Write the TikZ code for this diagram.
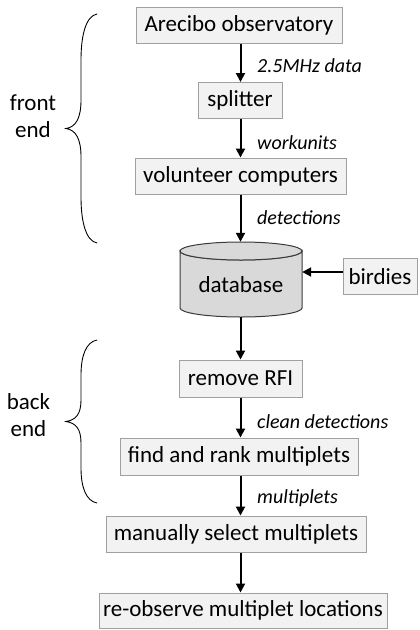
\documentclass[tikz,border=0pt]{standalone}
\usepackage{fontspec}
\setmainfont{Carlito}
\usetikzlibrary{arrows.meta}
\definecolor{boxfill}{HTML}{F2F2F2}
\definecolor{boxline}{HTML}{A0A0A0}
\definecolor{dbfill}{HTML}{D9D9D9}
\definecolor{dbline}{HTML}{3A3A3A}
\begin{document}
\begin{tikzpicture}[x=1pt,y=-1pt,
  stage/.style={draw=boxline, fill=boxfill, line width=1pt, inner sep=0pt,
    minimum height=36pt, font=\fontsize{23}{27}\selectfont},
  flowlabel/.style={anchor=west, inner sep=0pt, font=\fontsize{20}{24}\itshape},
  sidelabel/.style={align=center, inner sep=0pt, font=\fontsize{23}{27}\selectfont},
  flow/.style={line width=2pt, -{Triangle[length=9pt,width=9pt]}},
  bracket/.style={line width=0.9pt, line cap=round}]
\useasboundingbox (0,0) rectangle (420,630);

% vertical line along which the main flow runs
\coordinate (spine) at (240.5,0);

% pipeline stages
\node[stage, minimum width=206pt] (arecibo) at (239,25) {Arecibo observatory};
\node[stage, minimum width=84pt]  (splitter) at (240,100.5) {splitter};
\node[stage, minimum width=211pt] (volunteer) at (240.5,176) {volunteer computers};
\node[stage, minimum width=74pt]  (birdies) at (380,276.5) {birdies};
\node[stage, minimum width=123pt, minimum height=37pt] (rfi) at (240.5,378.5) {remove RFI};
\node[stage, minimum width=238pt, minimum height=37pt] (rank) at (239,456.5) {find and rank multiplets};
\node[stage, minimum width=260pt] (select) at (236,534) {manually select multiplets};
\node[stage, minimum width=288pt, minimum height=35pt] (reobs) at (243,610.5) {re-observe multiplet locations};

% database cylinder: body outline plus top ellipse
\node[inner sep=0pt, minimum width=122pt, minimum height=75pt] (db) at (241,279.5) {};
\filldraw[fill=dbfill, draw=dbline, line width=1pt]
  (180,251) -- (180,308) arc (180:0:61 and 9) -- (302,251) arc (0:180:61 and 9) -- cycle;
\filldraw[fill=dbfill, draw=dbline, line width=1pt] (241,251) ellipse (61 and 9);
\node[inner sep=0pt, font=\fontsize{23}{27}\selectfont] (dbtext) at (241,285) {database};

% connectors
\draw[flow] (arecibo.south -| spine) -- (splitter.north -| spine);
\draw[flow] (splitter.south -| spine) -- (volunteer.north -| spine);
\draw[flow] (volunteer.south -| spine) -- (db.north -| spine);
\draw[flow] ([yshift=4.5pt]birdies.west) -- ([yshift=4.5pt]birdies.west -| db.east);
\draw[flow] (db.south -| spine) -- (rfi.north -| spine);
\draw[flow] (rfi.south -| spine) -- (rank.north -| spine);
\draw[flow] (rank.south -| spine) -- (select.north -| spine);
\draw[flow] (select.south -| spine) -- (reobs.north -| spine);

% connector labels
\node[flowlabel] (l1) at (257,66) {2.5MHz data};
\node[flowlabel] (l2) at (257,143) {workunits};
\node[flowlabel] (l3) at (257,218) {detections};
\node[flowlabel] (l4) at (257,422) {clean detections};
\node[flowlabel] (l5) at (257,498) {multiplets};

% grouping braces
\draw[bracket] (97,14) .. controls (86,16) and (81,35) .. (81,60) -- (81,100)
  .. controls (81,118) and (76,127) .. (66,128.5)
  .. controls (76,130) and (81,139) .. (81,157) -- (81,197)
  .. controls (81,222) and (86,241) .. (97,243);
\draw[bracket] (97,340) .. controls (86,342) and (81,356) .. (81,375) -- (81,400)
  .. controls (81,414) and (76,420) .. (66,421.5)
  .. controls (76,423) and (81,429) .. (81,443) -- (81,468)
  .. controls (81,487) and (86,501) .. (97,503);
\node[sidelabel] (front) at (33,116.5) {front\\end};
\node[sidelabel] (back) at (28.5,415) {back\\end};
\end{tikzpicture}
\end{document}
